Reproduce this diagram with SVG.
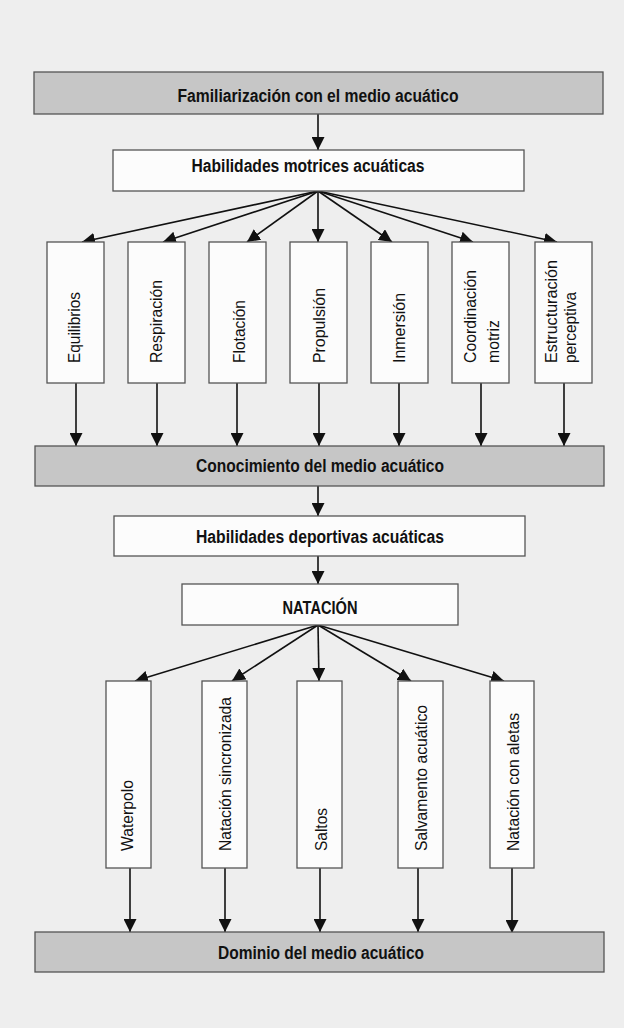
<svg xmlns="http://www.w3.org/2000/svg" width="624" height="1028" viewBox="0 0 624 1028">
<style>
.bg{fill:#eeeeee}
.gray{fill:#c6c6c6;stroke:#555;stroke-width:1.3}
.white{fill:#fcfcfc;stroke:#555;stroke-width:1.3}
.t{font-family:"Liberation Sans Narrow","Liberation Sans",Arial,sans-serif;font-weight:bold;font-size:18px;fill:#111;text-anchor:middle}
.v{font-family:"Liberation Sans Narrow","Liberation Sans",Arial,sans-serif;font-size:17px;fill:#111}
.c{stroke:#111;stroke-width:1.6;fill:none;marker-end:url(#ah)}
</style>
<defs>
<marker id="ah" markerUnits="userSpaceOnUse" markerWidth="13" markerHeight="13" refX="13" refY="6.5" orient="auto">
<path d="M0,0 L13,6.5 L0,13 z" fill="#111"/>
</marker>
</defs>
<rect class="bg" x="0" y="0" width="624" height="1028"/>

<g id="connectors">
<line class="c" x1="318" y1="114" x2="318" y2="150"/>
<line class="c" x1="318" y1="191" x2="82" y2="242"/>
<line class="c" x1="318" y1="191" x2="163" y2="242"/>
<line class="c" x1="318" y1="191" x2="247" y2="242"/>
<line class="c" x1="318" y1="191" x2="318" y2="242"/>
<line class="c" x1="318" y1="191" x2="392" y2="242"/>
<line class="c" x1="318" y1="191" x2="473" y2="242"/>
<line class="c" x1="318" y1="191" x2="557" y2="242"/>
<line class="c" x1="76" y1="383" x2="76" y2="446"/>
<line class="c" x1="157" y1="383" x2="157" y2="446"/>
<line class="c" x1="237" y1="383" x2="237" y2="446"/>
<line class="c" x1="319" y1="383" x2="319" y2="446"/>
<line class="c" x1="399" y1="383" x2="399" y2="446"/>
<line class="c" x1="481" y1="383" x2="481" y2="446"/>
<line class="c" x1="564" y1="383" x2="564" y2="446"/>
<line class="c" x1="318" y1="486" x2="318" y2="516"/>
<line class="c" x1="318" y1="556" x2="318" y2="584"/>
<line class="c" x1="318" y1="625" x2="135" y2="681"/>
<line class="c" x1="318" y1="625" x2="232" y2="681"/>
<line class="c" x1="318" y1="625" x2="319" y2="681"/>
<line class="c" x1="318" y1="625" x2="411" y2="681"/>
<line class="c" x1="318" y1="625" x2="504" y2="681"/>
<line class="c" x1="130" y1="868" x2="130" y2="932"/>
<line class="c" x1="225" y1="868" x2="225" y2="932"/>
<line class="c" x1="320" y1="868" x2="320" y2="932"/>
<line class="c" x1="418" y1="868" x2="418" y2="932"/>
<line class="c" x1="512" y1="868" x2="512" y2="933"/>
</g>

<g id="familiarizacion">
<rect class="gray" x="34" y="72" width="569" height="42"/>
<text class="t" x="318" y="102" textLength="281" lengthAdjust="spacingAndGlyphs">Familiarización con el medio acuático</text>
</g>
<g id="hab-motrices">
<rect class="white" x="113" y="150" width="411" height="41"/>
<text class="t" x="308" y="172" textLength="233" lengthAdjust="spacingAndGlyphs">Habilidades motrices acuáticas</text>
</g>

<g id="equilibrios">
<rect class="white" x="47" y="242" width="57" height="141"/>
<text class="v" transform="translate(80,363) rotate(-90)" textLength="71" lengthAdjust="spacingAndGlyphs">Equilibrios</text>
</g>
<g id="respiracion">
<rect class="white" x="128" y="242" width="57" height="141"/>
<text class="v" transform="translate(162,363) rotate(-90)" textLength="83" lengthAdjust="spacingAndGlyphs">Respiración</text>
</g>
<g id="flotacion">
<rect class="white" x="209" y="242" width="57" height="141"/>
<text class="v" transform="translate(245,363) rotate(-90)" textLength="63" lengthAdjust="spacingAndGlyphs">Flotación</text>
</g>
<g id="propulsion">
<rect class="white" x="290" y="242" width="57" height="141"/>
<text class="v" transform="translate(325,363) rotate(-90)" textLength="75" lengthAdjust="spacingAndGlyphs">Propulsión</text>
</g>
<g id="inmersion">
<rect class="white" x="371" y="242" width="57" height="141"/>
<text class="v" transform="translate(405,363) rotate(-90)" textLength="70" lengthAdjust="spacingAndGlyphs">Inmersión</text>
</g>
<g id="coordinacion">
<rect class="white" x="452" y="242" width="57" height="141"/>
<text class="v" transform="translate(476,363) rotate(-90)" textLength="93" lengthAdjust="spacingAndGlyphs">Coordinación</text>
<text class="v" transform="translate(499,363) rotate(-90)" textLength="43" lengthAdjust="spacingAndGlyphs">motriz</text>
</g>
<g id="estructuracion">
<rect class="white" x="535" y="242" width="57" height="141"/>
<text class="v" transform="translate(557,363) rotate(-90)" textLength="103" lengthAdjust="spacingAndGlyphs">Estructuración</text>
<text class="v" transform="translate(576,363) rotate(-90)" textLength="71" lengthAdjust="spacingAndGlyphs">perceptiva</text>
</g>

<g id="conocimiento">
<rect class="gray" x="35" y="446" width="569" height="40"/>
<text class="t" x="320" y="472" textLength="248" lengthAdjust="spacingAndGlyphs">Conocimiento del medio acuático</text>
</g>
<g id="hab-deportivas">
<rect class="white" x="114" y="516" width="411" height="40"/>
<text class="t" x="320" y="543" textLength="248" lengthAdjust="spacingAndGlyphs">Habilidades deportivas acuáticas</text>
</g>
<g id="natacion">
<rect class="white" x="182" y="584" width="276" height="41"/>
<text class="t" x="320" y="614" textLength="75" lengthAdjust="spacingAndGlyphs">NATACIÓN</text>
</g>

<g id="waterpolo">
<rect class="white" x="106" y="681" width="45" height="187"/>
<text class="v" transform="translate(133,851) rotate(-90)" textLength="71" lengthAdjust="spacingAndGlyphs">Waterpolo</text>
</g>
<g id="sincronizada">
<rect class="white" x="202" y="681" width="45" height="187"/>
<text class="v" transform="translate(231,851) rotate(-90)" textLength="154" lengthAdjust="spacingAndGlyphs">Natación sincronizada</text>
</g>
<g id="saltos">
<rect class="white" x="297" y="681" width="45" height="187"/>
<text class="v" transform="translate(327,851) rotate(-90)" textLength="43" lengthAdjust="spacingAndGlyphs">Saltos</text>
</g>
<g id="salvamento">
<rect class="white" x="398" y="681" width="45" height="187"/>
<text class="v" transform="translate(427,851) rotate(-90)" textLength="146" lengthAdjust="spacingAndGlyphs">Salvamento acuático</text>
</g>
<g id="aletas">
<rect class="white" x="490" y="681" width="44" height="187"/>
<text class="v" transform="translate(519,851) rotate(-90)" textLength="138" lengthAdjust="spacingAndGlyphs">Natación con aletas</text>
</g>

<g id="dominio">
<rect class="gray" x="35" y="932" width="569" height="40"/>
<text class="t" x="321" y="959" textLength="206" lengthAdjust="spacingAndGlyphs">Dominio del medio acuático</text>
</g>
</svg>
